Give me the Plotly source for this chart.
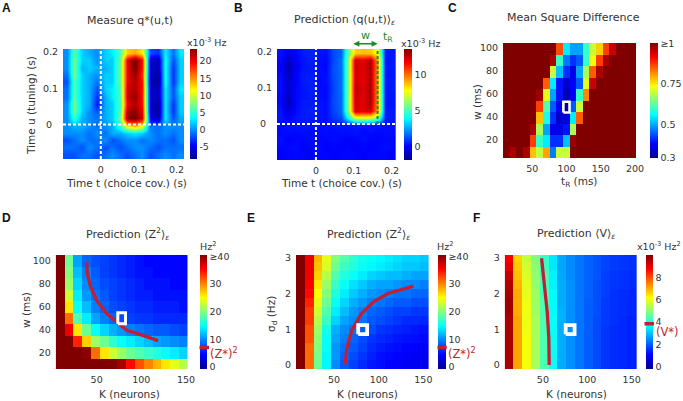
import plotly.graph_objects as go

W, H = 683, 401
FONT = "DejaVu Sans"
TXT = "#333333"
RED = "#c01f35"
GREEN = "#1f8a2a"

# ---------- data ----------
t_bins_a = [-0.09,-0.07,-0.05,-0.03,-0.01,0.01,0.03,0.05,0.07,0.09,0.11,0.13,0.15,0.17,0.19,0.21]
u_bins_a = [0.197,0.177,0.157,0.137,0.117,0.097,0.077,0.057,0.037,0.017,-0.003,-0.023,-0.043,-0.063,-0.083]
q_measure = [
 [0,6,2,1,0,2,3,6,13,14,12,-2,-3,3,-1,3],
 [0,7,2,2,0,2,2,7,20,24,19,-6,-7,4,-2,2],
 [0,7,1,2,1,1,2,7,20,24,19,-6,-7,4,-3,2],
 [-1,7,2,1,0,2,2,7,20,23,18,-6,-8,4,-3,2],
 [-2,6,2,1,-1,2,2,7,20,22,19,-7,-8,4,-3,2],
 [-1,6,2,1,-2,2,3,6,21,22,19,-6,-7,3,-2,3],
 [-1,6,2,1,-3,1,3,6,21,23,19,-6,-7,3,-2,2],
 [0,7,2,1,-4,1,2,6,20,22,19,-6,-8,3,-3,2],
 [0,7,2,0,-2,1,2,6,22,23,20,-6,-8,3,-3,2],
 [0,5,1,0,-1,1,2,7,23,24,21,-5,-7,3,-2,1],
 [0,1,1,0,-1,0,1,5,12,14,11,-1,-1,0,0,0],
 [0,0,0,-1,0,-1,1,1,2,3,2,0,-1,0,-1,0],
 [-2,-1,0,-1,-1,0,-2,-1,0,0,-1,0,-1,-1,-2,0],
 [-1,-1,-2,0,-1,-2,-1,-2,-1,0,0,-1,-2,-1,-1,-1],
 [-2,-2,-1,-1,-2,-1,0,-1,-2,-1,0,-2,-1,0,-1,0],
]
t_bins_b = [-0.093,-0.073,-0.053,-0.034,-0.014,0.006,0.026,0.045,0.065,0.085,0.104,0.124,0.144,0.163,0.183,0.203]
u_bins_b = [0.198,0.178,0.158,0.138,0.118,0.097,0.077,0.057,0.037,0.017,-0.003,-0.023,-0.043,-0.063,-0.083]
q_predict = [
 [0.3,-0.2,0.2,0.5,0.6,0.4,0.3,1.2,1.6,5.5,8.5,8.8,8.6,7.5,0.5,0.4],
 [0.2,-1.0,0.1,0.4,0.6,0.3,0.2,1.2,1.8,6.0,12.5,12.0,12.8,9.0,0.4,0.5],
 [0.1,-1.2,0.0,0.4,0.5,0.3,0.2,1.3,1.8,6.0,12.6,12.1,13.0,9.0,0.5,0.5],
 [0.2,-1.0,0.1,0.5,0.5,0.3,0.3,1.3,1.7,6.0,12.4,12.0,12.9,9.0,0.4,0.4],
 [0.3,-0.8,0.1,0.5,0.6,0.2,0.3,1.2,1.8,6.0,12.5,12.0,13.0,9.0,0.5,0.5],
 [0.3,-0.7,0.2,0.4,0.6,0.3,0.2,1.1,1.8,6.0,12.7,12.1,13.0,9.0,0.4,0.5],
 [0.2,-0.9,0.2,0.4,0.5,0.3,0.2,1.2,1.7,6.0,12.6,12.0,13.0,9.0,0.5,0.4],
 [0.2,-1.1,0.2,0.5,0.5,0.4,0.3,1.2,1.7,6.0,12.5,12.1,12.9,9.0,0.4,0.4],
 [0.4,-0.5,0.3,0.5,0.6,0.4,0.3,1.1,1.6,6.0,12.3,12.0,12.4,9.0,0.5,0.5],
 [0.4,0.1,0.4,0.5,0.5,0.4,0.3,0.9,1.3,4.0,7.0,7.2,7.0,5.5,0.5,0.5],
 [0.3,0.3,0.4,0.4,0.4,0.3,0.3,0.4,0.4,0.4,0.5,0.5,0.5,0.4,0.3,0.3],
 [0.2,0.3,0.2,0.3,0.2,0.2,0.3,0.2,0.3,0.3,0.4,0.2,0.3,0.2,0.3,0.3],
 [0.3,0.1,0.2,0.2,0.3,0.2,0.2,0.3,0.2,0.1,0.2,0.3,0.2,0.2,0.2,0.2],
 [0.2,0.2,0.3,0.1,0.2,0.3,0.1,0.2,0.1,0.2,0.0,0.2,0.1,0.2,0.3,0.2],
 [0.1,0.2,0.2,0.2,0.1,0.2,0.2,0.1,0.2,0.2,0.2,0.1,0.2,0.2,0.2,0.1],
]
t_r_bins = [12.3,22,31.7,41.4,51.1,60.8,70.5,80.2,89.9,99.6,109.3,119,128.7,138.4,148.1,157.8,167.5,177.2,186.9,196.6]
w_bins_c = [99.3,89.3,79.3,69.3,59.3,49.3,39.3,29.3,19.3,9.3]
msd = [
 [1,1,1,1,1,1,1,1,.86,.55,.5,.5,.6,.7,.77,.87,.95,1,1,1],
 [1,1,1,1,1,1,1,.97,.6,.47,.42,.45,.6,.73,.87,.97,1,1,1,1],
 [1,1,1,1,1,1,1,.7,.52,.42,.37,.5,.68,.85,.97,1,1,1,1,1],
 [1,1,1,1,1,1,.85,.55,.4,.35,.38,.45,.72,.95,1,1,1,1,1,1],
 [1,1,1,1,1,.98,.72,.5,.4,.33,.38,.6,.82,1,1,1,1,1,1,1],
 [1,1,1,1,1,.87,.62,.45,.38,.32,.45,.7,1,1,1,1,1,1,1,1],
 [1,1,1,1,1,.78,.58,.42,.35,.36,.55,.85,1,1,1,1,1,1,1,1],
 [1,1,1,1,.97,.68,.5,.37,.37,.4,.68,1,1,1,1,1,1,1,1,1],
 [1,1,1,1,.87,.6,.55,.42,.42,.52,.98,1,1,1,1,1,1,1,1,1],
 [1,.97,1,.97,.78,.7,.8,.47,.7,.7,1,1,1,1,1,1,1,1,1,1],
]
k_bins_d = [9.1,18.9,28.8,38.6,48.5,58.3,68.2,78,87.9,97.7,107.6,117.4,127.3,137.1,147]
w_bins_d = [100.2,90.2,80.2,70.2,60.2,50.2,40.2,30.2,20.2,10.2]
z2_w = [
 [45,19,11,8.5,7.5,7,6.5,6,5.5,5,4.5,4.5,4.5,4.5,4.5],
 [45,20,12,9.5,8,7,6.5,6,5.5,5,5,4.5,4.5,4.5,4.5],
 [45,21,13,10,8.5,7.5,7,6.5,6,5.5,5,5,5,4.5,4.5],
 [45,23,14,10.5,9,8,7,6.5,6,5.5,5.5,5,5,5,5],
 [45,26,15,12,9.5,8.5,7.5,7,6.5,6,6,5.5,5.5,5.5,5],
 [45,31,18,14,11,9.5,8.5,7.5,7,6.5,6.5,6,6,6,6],
 [45,36,26,19,15,13,11.5,10.5,9.5,9,8.5,8,8,7.5,7],
 [45,45,34,27,21,19,16.5,15,14,13,12,11,10.5,10,9.5],
 [45,45,45,40,31,26,23,21,19,18,17,16,15,14,13],
 [45,45,45,45,45,45,45,39,35,32,30,28,26,24,22],
]
curve_d_k = [38.8,39.5,43.2,49.9,61,72.2,83.4,98.3,118.8]
curve_d_w = [99.3,89.3,77.6,66,54.4,47,39.8,36,30.5]

k_bins_e = [12.1,22,31.9,41.8,51.7,61.6,71.5,81.4,91.3,101.2,111.1,121,130.9,140.8,150.7]
sigma_bins = [3,2.75,2.5,2.25,2,1.75,1.5,1.25,1,.75,.5,.25,0]
z2_sigma = [
 [45,36,28,24,20,18,16.5,15.5,15,14.5,14,13.5,13,13,12.5],
 [45,36,27.5,23.5,19,17,16,15,14.5,14,13.5,13,12.5,12.5,12],
 [45,36,27,22,18,16,15,14,13,12.5,12,12,11.5,11,11],
 [45,35.5,26,21,17,15,13.5,12.5,11.5,11,11,10.5,10,10,9.5],
 [45,35,25,20,16,14,12.5,11.5,10.5,10,9.5,9,9,8.5,8.5],
 [45,34,24,19,15,13,11.5,10.5,9.5,9,8.5,8,8,7.5,7.5],
 [45,33,23,18,14,12,10.5,9.5,8.5,8,7.5,7,7,6.5,6.5],
 [45,33,22,17,13,11,10,9,8,7.5,7,6.5,6,6,5.8],
 [45,32,21,15.5,11.5,10,9,8,7.5,6.5,6.2,5.8,5.5,5.2,5],
 [45,32,20.5,15,11,9.5,8.5,7.5,6.5,6,5.6,5.2,5,4.8,4.6],
 [45,31,20,15,10.5,9,8,7,6,5.4,5,4.8,4.5,4.4,4.2],
 [45,31,19.5,14.5,10.5,8.5,7.5,6.5,5.6,5,4.6,4.4,4.2,4,3.8],
 [45,31,19,14.5,10,8,7,6,5.2,4.8,4.4,4.2,4,3.8,3.6],
]
curve_e_k = [62.4,64.2,69.9,81,94.2,111,139]
curve_e_s = [0.02,0.47,0.98,1.45,1.77,2.01,2.21]

k_bins_f = [11.9,21.8,31.7,41.6,51.5,61.4,71.3,81.2,91.1,101,110.9,120.8,130.7,140.6,150.5]
v_sigma = [
 [8.8,6.6,5.6,4.9,4.1,3.4,2.75,2.45,2.25,2.05,1.9,1.75,1.65,1.6,1.55],
 [9.0,6.7,5.7,5.0,4.2,3.4,2.75,2.45,2.25,2.05,1.9,1.75,1.65,1.6,1.55],
 [9.3,6.8,5.8,5.1,4.3,3.5,2.75,2.45,2.25,2.05,1.9,1.7,1.6,1.55,1.5],
 [9.5,6.9,5.9,5.1,4.3,3.5,2.8,2.5,2.25,2.05,1.85,1.7,1.6,1.55,1.5],
 [9.6,7.0,5.9,5.2,4.3,3.6,2.8,2.5,2.25,2.05,1.85,1.7,1.55,1.5,1.45],
 [9.7,7.0,6.0,5.2,4.4,3.6,2.8,2.5,2.25,2.0,1.85,1.65,1.55,1.5,1.45],
 [9.7,7.0,6.0,5.2,4.4,3.6,2.85,2.5,2.25,2.0,1.85,1.65,1.55,1.5,1.45],
 [9.6,7.1,6.0,5.3,4.4,3.7,2.85,2.5,2.25,2.0,1.8,1.65,1.55,1.45,1.4],
 [9.6,7.1,6.0,5.3,4.4,3.7,2.8,2.5,2.25,2.0,1.8,1.6,1.5,1.45,1.4],
 [9.6,7.1,6.1,5.3,4.4,3.7,2.8,2.5,2.25,2.0,1.8,1.6,1.5,1.45,1.4],
 [9.6,7.1,6.1,5.3,4.4,3.7,2.8,2.5,2.25,2.0,1.8,1.6,1.5,1.45,1.4],
 [9.6,7.1,6.1,5.3,4.4,3.7,2.8,2.5,2.25,2.0,1.8,1.6,1.5,1.45,1.4],
 [9.6,7.1,6.1,5.3,4.4,3.7,2.8,2.5,2.25,2.0,1.8,1.6,1.5,1.45,1.4],
]
curve_f_k = [48.5,52.2,54.9,56.7,57.1]
curve_f_s = [2.99,2.15,1.49,0.75,0.0]

# best-fit boxes (low, high)
box_c_x, box_c_y = [95.5, 104.5], [43.9, 53.2]
box_d_x, box_d_y = [73.7, 82.3], [45.2, 54.8]
box_e_x, box_e_y = [77, 87], [0.865, 1.115]
box_f_x, box_f_y = [75.7, 85.7], [0.865, 1.115]

z_star, v_star = 7.0, 3.85
w_arrow_t = [0.095, 0.163]
t_r_line = 0.163

JET = [[0,"rgb(0,0,143)"],[0.125,"rgb(0,0,255)"],[0.375,"rgb(0,255,255)"],
       [0.625,"rgb(255,255,0)"],[0.875,"rgb(255,0,0)"],[1,"rgb(128,0,0)"]]

# ---------- layout helpers ----------
def X(px): return px / W
def Y(py): return 1 - py / H

fig = go.Figure()
annots = []
layout = {}

def text(s, x, y, size=10.5, color=TXT, angle=0, family=FONT, anchor="center"):
    annots.append(dict(text=s, x=X(x), y=Y(y), xref="paper", yref="paper", showarrow=False,
                       xanchor=anchor, yanchor="middle", textangle=angle,
                       font=dict(size=size, color=color, family=family)))

def edge_pad(xs, ys, z):
    # repeat the outer bins just past the axis range, so the smoothed image fills the frame
    dx, dy = xs[1] - xs[0], ys[1] - ys[0]
    px = [xs[0] - dx] + list(xs) + [xs[-1] + dx]
    py = [ys[0] - dy] + list(ys) + [ys[-1] + dy]
    rows = [[r[0]] + list(r) + [r[-1]] for r in z]
    return px, py, [rows[0]] + rows + [rows[-1]]

def panel(i, x0, x1, y0, y1, xr, yr, xt, yt, xs, ys, z, zr, cb, cvals, ctext, smooth, xtt=None, ytt=None):
    suffix = "" if i == 1 else str(i)
    layout["xaxis" + suffix] = dict(domain=[X(x0), X(x1)], range=xr, tickvals=xt, ticktext=xtt,
        anchor="y" + suffix, showgrid=False, zeroline=False, ticks="outside", ticklen=2,
        tickcolor="rgba(0,0,0,0)", showline=False, tickfont=dict(size=9.5, color=TXT, family=FONT))
    layout["yaxis" + suffix] = dict(domain=[Y(y1), Y(y0)], range=yr, tickvals=yt, ticktext=ytt,
        anchor="x" + suffix, showgrid=False, zeroline=False, ticks="outside", ticklen=2,
        tickcolor="rgba(0,0,0,0)", showline=False, tickfont=dict(size=9.5, color=TXT, family=FONT))
    gx, gy, gz = xs, ys[::-1], z[::-1]
    if smooth:
        gx, gy, gz = edge_pad(gx, gy, gz)
    fig.add_trace(go.Heatmap(x=gx, y=gy, z=gz, zmin=zr[0], zmax=zr[1], colorscale=JET,
        zsmooth="best" if smooth else False, xaxis="x" + suffix, yaxis="y" + suffix, hoverinfo="skip",
        colorbar=dict(x=X(cb[0]), xanchor="left", y=Y(y1), yanchor="bottom", len=(y1 - y0) / H,
                      lenmode="fraction", thickness=cb[1] - cb[0], thicknessmode="pixels", xpad=0, ypad=0,
                      outlinewidth=0, ticks="", tickvals=cvals, ticktext=ctext,
                      tickfont=dict(size=9.5, color=TXT, family=FONT))))

def overlay(i, xs, ys, color, width, dash=None):
    suffix = "" if i == 1 else str(i)
    fig.add_trace(go.Scatter(x=xs, y=ys, mode="lines", line=dict(color=color, width=width, dash=dash),
                             xaxis="x" + suffix, yaxis="y" + suffix, showlegend=False, hoverinfo="skip"))

def box(i, bx, by, width):
    overlay(i, [bx[0], bx[1], bx[1], bx[0], bx[0]], [by[0], by[0], by[1], by[1], by[0]], "white", width)

# A
panel(1, 63, 184, 49, 159, [-0.1, 0.22], [-0.095, 0.208], [0, 0.1, 0.2], [0, 0.1, 0.2],
      t_bins_a, u_bins_a, q_measure, [-8.5, 23.5], (190, 197),
      [-5, 0, 5, 10, 15, 20], ["-5", "0", "5", "10", "15", "20"], True,
      ytt=["0\u00a0\u00a0", "0.1", "0.2"])
overlay(1, [0, 0], [-0.095, 0.208], "white", 2, "3px,2px")
overlay(1, [-0.1, 0.22], [0, 0], "white", 2, "3px,2px")
# B
panel(2, 277, 395.7, 49, 160, [-0.103, 0.211], [-0.1, 0.208], [0, 0.1, 0.2], [0, 0.1, 0.2],
      t_bins_b, u_bins_b, q_predict, [-1.8, 13.6], (404, 412),
      [0, 5, 10], ["0", "5", "10"], True, ytt=["0\u00a0\u00a0", "0.1", "0.2"])
overlay(2, [0, 0], [-0.1, 0.208], "white", 2, "3px,2px")
overlay(2, [-0.103, 0.211], [0, 0], "white", 2, "3px,2px")
overlay(2, [t_r_line, t_r_line], [0, 0.208], GREEN, 2, "3px,2px")
# C
panel(3, 503, 636, 43, 158, [7.4, 201.5], [4.3, 104.3], [50, 100, 150, 200], [20, 40, 60, 80, 100],
      t_r_bins, w_bins_c, msd, [0.3, 1.0], (650, 658),
      [0.305, 0.5, 0.75, 0.995], ["0.3", "0.5", "0.75", "≥1"], False)
box(3, box_c_x, box_c_y, 2.6)
# D
panel(4, 55.7, 187.7, 255, 369, [4.2, 151.9], [5.8, 105.2], [50, 100, 150], [20, 40, 60, 80, 100],
      k_bins_d, w_bins_d, z2_w, [-0.8, 40.5], (200, 207.3),
      [0, 10, 20, 30, 40], ["0", "10", "20", "30", "≥40"], False)
overlay(4, curve_d_k, curve_d_w, RED, 3.3)
box(4, box_d_x, box_d_y, 3)
# E
panel(5, 296, 428.7, 255, 369, [7.3, 156], [-0.11, 3.08], [50, 100, 150], [0, 1, 2, 3],
      k_bins_e, sigma_bins, z2_sigma, [-0.8, 40.5], (437.7, 445.7),
      [0, 10, 20, 30, 40], ["0", "10", "20", "30", "≥40"], False)
overlay(5, curve_e_k, curve_e_s, RED, 3.3)
box(5, box_e_x, box_e_y, 3.8)
# F
panel(6, 504.7, 637, 255, 369, [7, 156], [-0.11, 3.08], [50, 100, 150], [0, 1, 2, 3],
      k_bins_f, sigma_bins, v_sigma, [-0.2, 10], (645.7, 653),
      [0, 2, 4, 6, 8], ["0", "2", "4", "6", "8"], False)
overlay(6, curve_f_k, curve_f_s, RED, 3.3)
box(6, box_f_x, box_f_y, 3.8)

# titles
text("Measure q*(u,t)", 130, 20, 11)
text("Prediction ⟨q(u,t)⟩<sub><i>ε</i></sub>", 344, 20, 11)
text("Mean Square Difference", 573, 18, 11)
text("Prediction ⟨Z<sup>2</sup>⟩<sub><i>ε</i></sub>", 127, 234, 11)
text("Prediction ⟨Z<sup>2</sup>⟩<sub><i>ε</i></sub>", 368.5, 234, 11)
text("Prediction ⟨V⟩<sub><i>ε</i></sub>", 576, 234, 11)
# axis labels
text("Time t (choice cov.) (s)", 126, 183)
text("Time t (choice cov.) (s)", 341, 183)
text("t<sub>R</sub> (ms)", 579, 182)
text("K (neurons)", 129, 394)
text("K (neurons)", 367, 394)
text("K (neurons)", 576, 394)
text("Time u (tuning) (s)", 31, 106, angle=-90)
text("w (ms)", 477, 102, angle=-90)
text("w (ms)", 26, 310, angle=-90)
text("σ<sub>d</sub> (Hz)", 272, 314, angle=-90)
# colorbar units
text("x10<sup>-3</sup> Hz", 207, 42, 9.5)
text("x10<sup>-3</sup> Hz", 421, 43, 9.5)
text("Hz<sup>2</sup>", 207.5, 246, 9.5)
text("Hz<sup>2</sup>", 445, 246, 9.5)
text("x10<sup>-3</sup> Hz<sup>2</sup>", 658.6, 246, 9.5)
# panel letters
for s, x, y in [("A", 6, 8), ("B", 238, 8), ("C", 452, 8), ("D", 6, 218), ("E", 251, 218), ("F", 476, 218)]:
    text("<b>" + s + "</b>", x, y, 12, "#111111", family="Liberation Sans")
# green annotations
text("w", 365, 36, 11, GREEN)
text("t<sub>R</sub>", 388, 37, 11, GREEN)
def t_px(t): return 277 + (t + 0.103) / 0.314 * 118.7
annots.append(dict(x=X(t_px(w_arrow_t[1])), y=Y(43.7), ax=t_px(w_arrow_t[0]) - t_px(w_arrow_t[1]), ay=0,
                   xref="paper", yref="paper", axref="pixel", ayref="pixel",
                   text="", showarrow=True, arrowhead=2, arrowside="end+start", arrowsize=0.8, arrowwidth=1.5,
                   arrowcolor=GREEN))
# target level marks on the colorbars
def level(value, vmin, vmax, x0, x1):
    py = 369 - (value - vmin) / (vmax - vmin) * 114
    annots.append(dict(x=X(x1), y=Y(py), ax=x0 - x1, ay=0, xref="paper", yref="paper", axref="pixel", ayref="pixel",
                       text="", showarrow=True, arrowhead=0, arrowwidth=3.5, arrowcolor=RED, standoff=0, startstandoff=0))
level(z_star, -0.8, 40.5, 198, 209)
level(z_star, -0.8, 40.5, 436, 446.7)
level(v_star, -0.2, 10, 643, 654)
text("(Z*)<sup>2</sup>", 224, 353, 11.5, RED)
text("(Z*)<sup>2</sup>", 462, 353, 11.5, RED)
text("(V*)", 667, 332, 11.5, RED)

fig.update_layout(width=W, height=H, margin=dict(l=0, r=0, t=0, b=0, autoexpand=False), paper_bgcolor="white",
                  plot_bgcolor="white", showlegend=False, font=dict(family=FONT, color=TXT),
                  annotations=annots, **layout)
fig.write_html("out.html", config={"displayModeBar": False},
               post_script="document.body.style.margin='0';document.documentElement.style.overflow='hidden';")
